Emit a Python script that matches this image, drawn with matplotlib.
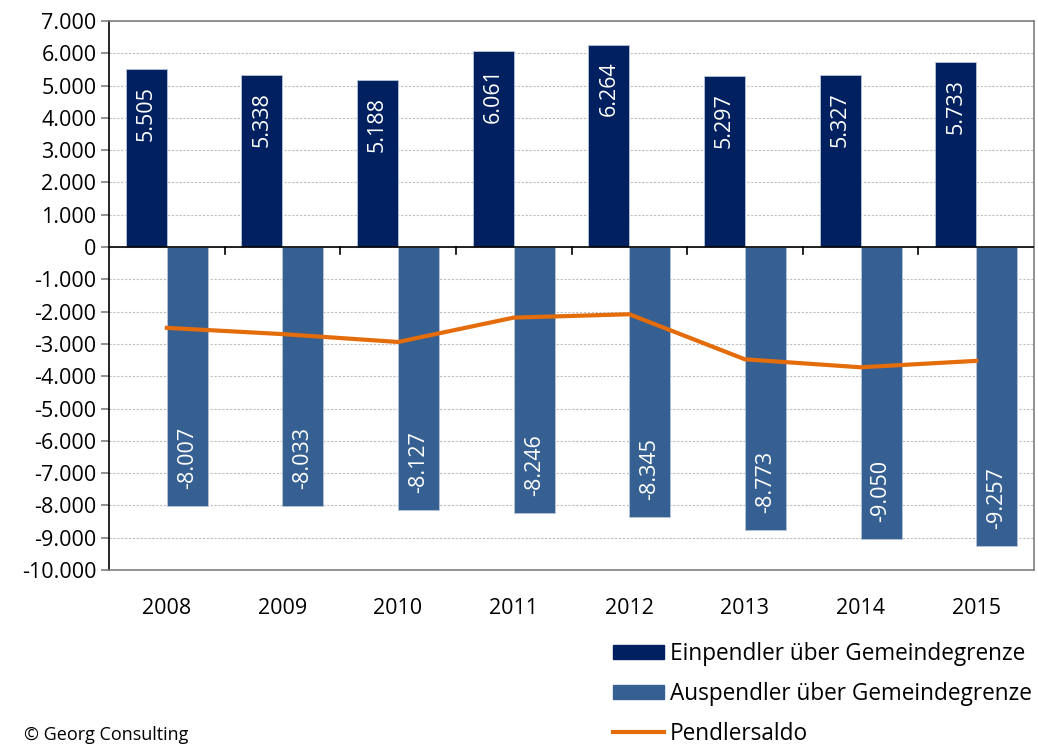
import matplotlib.pyplot as plt
import numpy as np
from matplotlib.lines import Line2D
from matplotlib.patches import Patch
from matplotlib.ticker import FuncFormatter, MultipleLocator

plt.rcParams['font.family'] = ['Open Sans', 'DejaVu Sans']

years = ['2008', '2009', '2010', '2011', '2012', '2013', '2014', '2015']
einpendler = [5505, 5338, 5188, 6061, 6264, 5297, 5327, 5733]
auspendler = [-8007, -8033, -8127, -8246, -8345, -8773, -9050, -9257]
saldo = [-2502, -2695, -2939, -2185, -2081, -3476, -3723, -3524]

c_ein = '#002060'
c_aus = '#376092'
c_line = '#e46c0a'


def de_fmt(v, pos=None):
    s = f"{abs(int(round(v))):,}".replace(',', '.')
    return ('-' if v < 0 else '') + s


fig = plt.figure(figsize=(10.38, 7.44), dpi=100)
ax = fig.add_axes([109 / 1038, 1 - 570 / 744, (1034 - 109) / 1038, (570 - 21) / 744])

x = np.arange(len(years))
w = 0.355
ax.bar(x - w / 2, einpendler, w, color=c_ein, edgecolor='#b8c4d8', linewidth=0.6, zorder=2)
ax.bar(x + w / 2, auspendler, w, color=c_aus, edgecolor='#b8c4d8', linewidth=0.6, zorder=2)
ax.plot(x, saldo, color=c_line, lw=3, zorder=3)

# bar labels at the inside end, rotated
ypx = (570 - 21) / 17000  # px per unit
off = 17 / ypx
for i in range(len(years)):
    ax.text(x[i] - w / 2, einpendler[i] - off, de_fmt(einpendler[i]), rotation=90,
            ha='center', va='top', color='white', fontsize=15.5, zorder=4)
    ax.text(x[i] + w / 2, auspendler[i] + off, de_fmt(auspendler[i]), rotation=90,
            ha='center', va='bottom', color='white', fontsize=15.5, zorder=4)

ax.set_xlim(-0.5, len(years) - 0.5)
ax.set_ylim(-10000, 7000)
ax.yaxis.set_major_locator(MultipleLocator(1000))
ax.yaxis.set_major_formatter(FuncFormatter(de_fmt))
ax.grid(axis='y', color='#bfbfbf', linestyle=(0, (2, 1.5)), linewidth=0.8, zorder=0)
ax.set_axisbelow(True)

ax.set_xticks(x)
ax.set_xticklabels(years)
ax.tick_params(axis='x', length=0, pad=20, labelsize=15.5, colors='black')
ax.tick_params(axis='y', length=6, width=1.2, color='#7f7f7f', labelsize=15.5, pad=3)

for s in ['top', 'right', 'bottom']:
    ax.spines[s].set_color('#7f7f7f')
    ax.spines[s].set_linewidth(1.2)
ax.spines['left'].set_color('black')
ax.spines['left'].set_linewidth(1.2)

# zero line with downward ticks at category boundaries
ax.axhline(0, color='black', lw=1.2, zorder=3)
tick_len = 7 / ypx
for b in np.arange(0.5, len(years) - 0.5, 1.0):
    ax.plot([b, b], [0, -tick_len], color='black', lw=1.2, zorder=3, clip_on=False)

handles = [Patch(color=c_ein), Patch(color=c_aus), Line2D([], [], color=c_line, lw=3)]
labels = ['Einpendler über Gemeindegrenze', 'Auspendler über Gemeindegrenze', 'Pendlersaldo']
fig.legend(handles, labels, loc='upper left', bbox_to_anchor=(613 / 1038, 1 - 642 / 744),
           frameon=False, fontsize=16.3, handlelength=2.25, handleheight=0.58,
           handletextpad=0.27, labelspacing=0.7, borderaxespad=0, borderpad=0)

fig.text(24 / 1038, 1 - 735 / 744, '© Georg Consulting', fontsize=13, va='center', ha='left')

fig.savefig('out.png', dpi=100)
